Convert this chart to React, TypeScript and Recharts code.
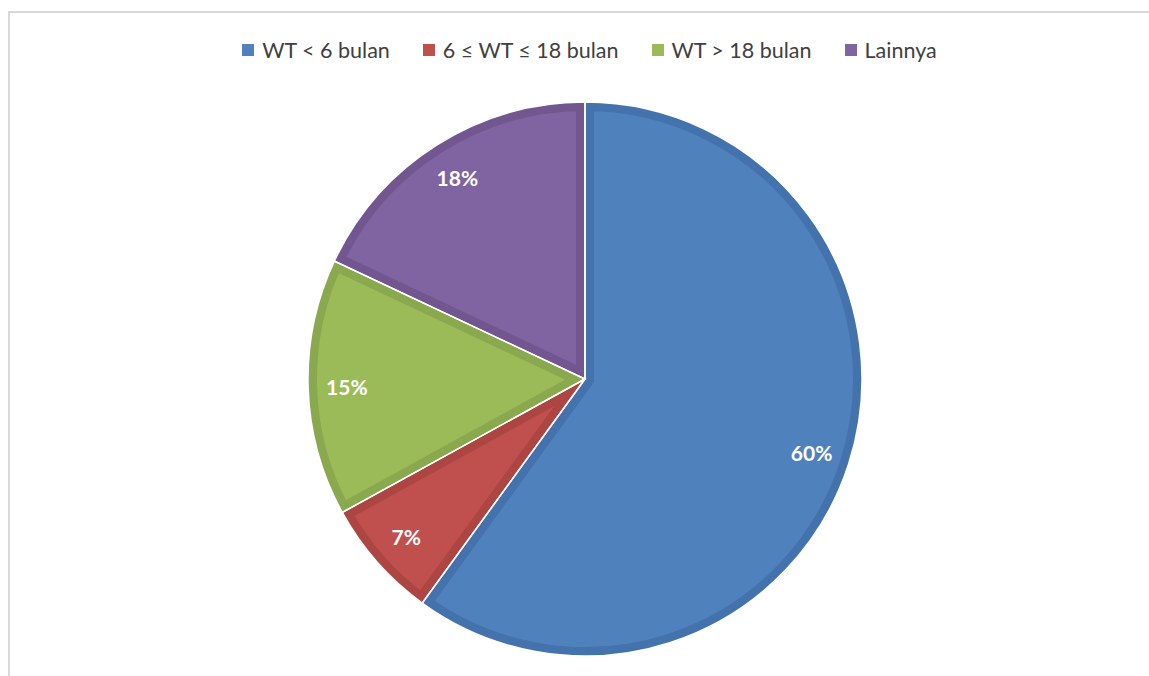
import { Cell, Pie, PieChart } from "recharts";

const CATEGORIES = ["WT < 6 bulan", "6 ≤ WT ≤ 18 bulan", "WT > 18 bulan", "Lainnya"];
const VALUES = [60, 7, 15, 18];

const FILLS = ["#4f81bd", "#c0504d", "#9bbb59", "#8064a2"];
const EDGES = ["#4472ad", "#ad4542", "#8aa84d", "#715690"];

const data = CATEGORIES.map((name, i) => ({ name, value: VALUES[i] }));

const RAD = Math.PI / 180;

function renderLabel(props: any) {
  const { cx, cy, midAngle, outerRadius, percent } = props;
  const r = outerRadius * 0.86;
  const x = cx + r * Math.cos(-midAngle * RAD);
  const y = cy + r * Math.sin(-midAngle * RAD);
  return (
    <text
      x={x}
      y={y}
      fill="#fff"
      textAnchor="middle"
      dominantBaseline="central"
      style={{ fontFamily: "Lato", fontWeight: 700, fontSize: 21 }}
    >
      {`${Math.round(percent * 100)}%`}
    </text>
  );
}

function ChartLegend() {
  return (
    <div
      style={{
        position: "absolute",
        top: 36,
        left: 30,
        width: 1119,
        display: "flex",
        justifyContent: "center",
        gap: 33,
        fontFamily: "Lato",
        fontSize: 21.5,
        lineHeight: "28px",
        color: "#404040",
      }}
    >
      {CATEGORIES.map((c, i) => (
        <div key={c} style={{ display: "flex", alignItems: "center" }}>
          <span style={{ width: 12, height: 12, background: FILLS[i], marginRight: 8, display: "inline-block" }} />
          <span>{c}</span>
        </div>
      ))}
    </div>
  );
}

const PIE_GEOM = {
  cx: 585,
  cy: 379,
  outerRadius: 277,
  startAngle: 90,
  endAngle: -270,
};

export default function App() {
  return (
    <div style={{ position: "absolute", left: 0, top: 0, width: 1149, height: 676, background: "#fff", overflow: "hidden" }}>
      <div
        style={{
          position: "absolute",
          left: 8,
          top: 11,
          width: 1200,
          height: 700,
          borderLeft: "2px solid #d9d9d9",
          borderTop: "2px solid #d9d9d9",
        }}
      />
      <div style={{ position: "absolute", left: 0, top: 0 }}>
        <PieChart width={1149} height={676} margin={{ top: 0, right: 0, bottom: 0, left: 0 }}>
          <defs>
            {data.map((_, i) => (
              <clipPath id={`clip-s${i}`} key={i}>
                <use href={`#base-s${i}`} />
              </clipPath>
            ))}
          </defs>
          <Pie data={data} dataKey="value" nameKey="name" {...PIE_GEOM} stroke="none" isAnimationActive={false}>
            {data.map((_, i) => (
              <Cell key={i} id={`base-s${i}`} fill={FILLS[i]} />
            ))}
          </Pie>
          <Pie
            data={data}
            dataKey="value"
            nameKey="name"
            {...PIE_GEOM}
            strokeWidth={18}
            isAnimationActive={false}
            label={renderLabel}
            labelLine={false}
          >
            {data.map((_, i) => (
              <Cell key={i} fill={FILLS[i]} stroke={EDGES[i]} clipPath={`url(#clip-s${i})`} />
            ))}
          </Pie>
          <Pie
            data={data}
            dataKey="value"
            nameKey="name"
            {...PIE_GEOM}
            fill="none"
            stroke="#ffffff"
            strokeWidth={1.5}
            isAnimationActive={false}
          />
        </PieChart>
      </div>
      <ChartLegend />
    </div>
  );
}
